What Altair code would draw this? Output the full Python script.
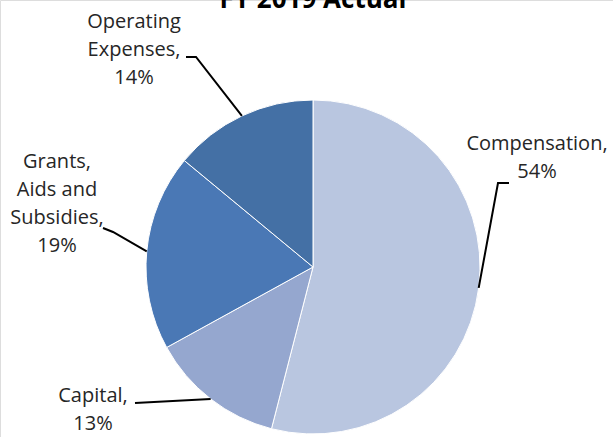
import math
import altair as alt
import pandas as pd

# ---- data ----
categories = ["Compensation", "Capital", "Grants, Aids and Subsidies", "Operating Expenses"]
label_lines = [["Compensation,"], ["Capital,"], ["Grants,", "Aids and", "Subsidies,"], ["Operating", "Expenses,"]]
values = [54, 13, 19, 14]
colors = ["#b9c6e0", "#95a7cf", "#4a78b5", "#4470a5"]
title_text = "FY 2019 Actual"

# ---- layout (pixels) ----
W, H = 613, 437
CX, CY, R = 313, 267, 167
FONT = "Open Sans"
label_pos = [(537, 150), (93, 402), (57, 168), (134, 28)]
leader_start = [
    [(509, 183), (498, 183)],
    [(135, 403)],
    [(103, 228), (113, 232)],
    [(186, 57), (196, 57)],
]

pie_df = pd.DataFrame({"cat": categories, "value": values, "order": range(len(values))})

# label text
lab_df = pd.DataFrame({
    "cat": categories,
    "text": ["\n".join(l + [f"{v}%"]) for l, v in zip(label_lines, values)],
    "x": [p[0] for p in label_pos],
    "y": [p[1] for p in label_pos],
})

# leader lines: end at slice mid-angle on the pie edge
total = sum(values)
rows = []
cum = 0
for i, v in enumerate(values):
    mid = (cum + v / 2) / total * 2 * math.pi
    cum += v
    pts = list(leader_start[i]) + [(CX + R * math.sin(mid), CY - R * math.cos(mid))]
    for j, (px, py) in enumerate(pts):
        rows.append({"cat": categories[i], "k": j, "x": px, "y": py})
line_df = pd.DataFrame(rows)

pie = alt.Chart(pie_df).mark_arc(radius=R, stroke="white", strokeWidth=1).encode(
    theta=alt.Theta("value:Q", stack=True),
    order=alt.Order("order:Q"),
    color=alt.Color("cat:N", scale=alt.Scale(domain=categories, range=colors), legend=None),
    x=alt.value(CX),
    y=alt.value(CY),
)

labels = alt.Chart(lab_df).mark_text(
    font=FONT, fontSize=20, color="#262626", align="center", baseline="alphabetic",
    lineBreak="\n", lineHeight=28,
).encode(
    x=alt.X("x:Q", scale=None),
    y=alt.Y("y:Q", scale=None),
    text="text:N",
)

leaders = alt.Chart(line_df).mark_line(color="black", strokeWidth=2).encode(
    x=alt.X("x:Q", scale=None),
    y=alt.Y("y:Q", scale=None),
    detail="cat:N",
    order="k:Q",
)

title = alt.Chart(pd.DataFrame({"t": [title_text]})).mark_text(
    font=FONT, fontSize=26, fontWeight="bold", color="black", align="center", baseline="alphabetic",
).encode(x=alt.value(CX), y=alt.value(8), text="t:N")

chart = alt.layer(pie, leaders, labels, title).properties(
    width=W, height=H, padding=0, autosize=alt.AutoSizeParams(type="none"),
).configure_view(stroke=None).configure(background="white")

chart.save("out.html", embed_options={"renderer": "svg", "actions": False})
